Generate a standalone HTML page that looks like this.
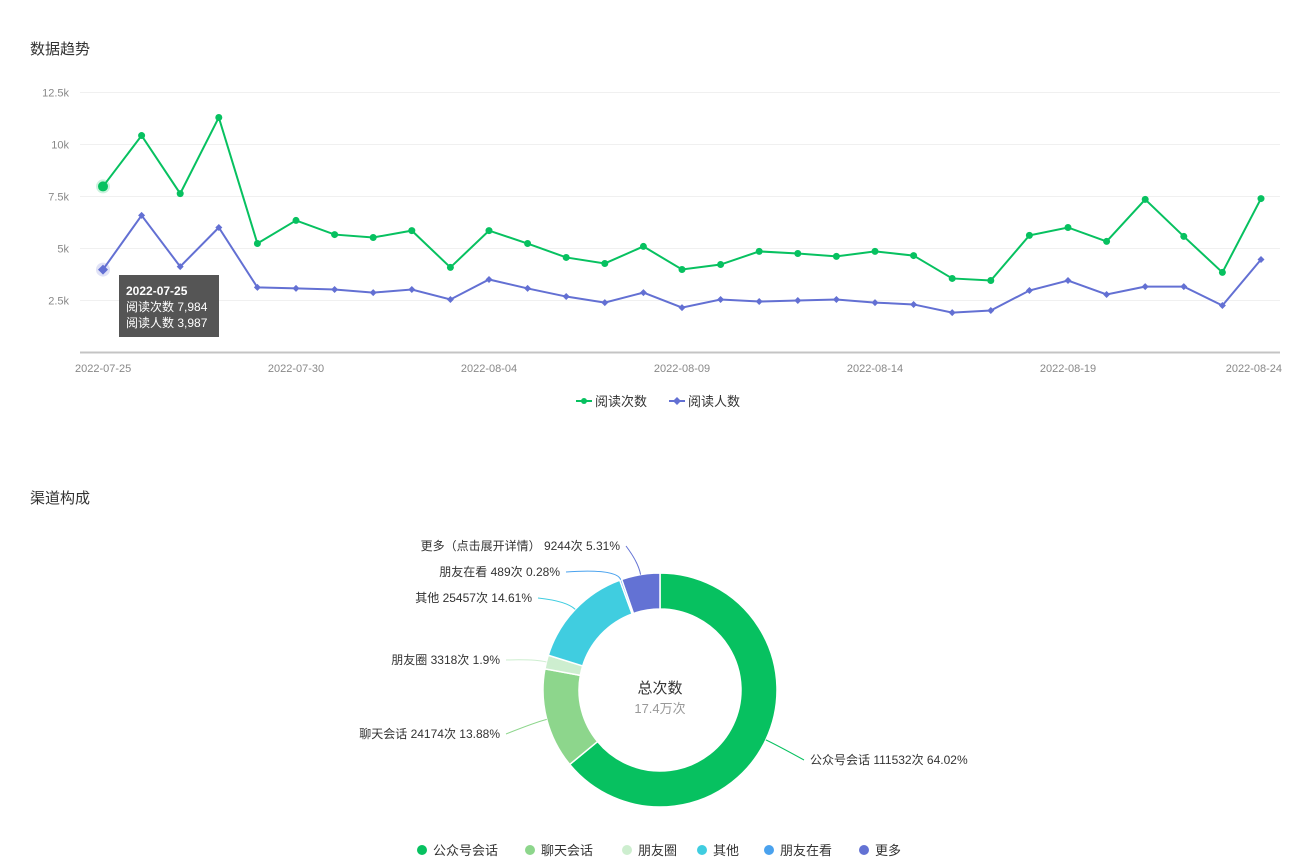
<!DOCTYPE html>
<html><head><meta charset="utf-8">
<style>
body{margin:0;background:#fff;width:1302px;height:866px;overflow:hidden;font-family:"Liberation Sans","Noto Sans CJK SC",sans-serif;}
.t{position:absolute;font-size:15px;color:#333;}
</style></head>
<body>
<div class="t" style="left:30px;top:38px">数据趋势</div>
<div class="t" style="left:30px;top:487px">渠道构成</div>
<svg width="1302" height="866" style="position:absolute;left:0;top:0" id="svg"
 font-family="Liberation Sans, Noto Sans CJK SC, sans-serif"></svg>
<script>
const dates=["2022-07-25","2022-07-26","2022-07-27","2022-07-28","2022-07-29","2022-07-30","2022-07-31","2022-08-01","2022-08-02","2022-08-03","2022-08-04","2022-08-05","2022-08-06","2022-08-07","2022-08-08","2022-08-09","2022-08-10","2022-08-11","2022-08-12","2022-08-13","2022-08-14","2022-08-15","2022-08-16","2022-08-17","2022-08-18","2022-08-19","2022-08-20","2022-08-21","2022-08-22","2022-08-23","2022-08-24"];
const reads=[7984,10430,7640,11300,5240,6350,5670,5530,5860,4090,5860,5240,4570,4280,5100,3990,4230,4860,4760,4620,4860,4660,3560,3460,5630,6010,5340,7360,5580,3850,7400];
const readers=[3987,6590,4130,6010,3130,3080,3030,2880,3030,2550,3510,3080,2690,2400,2880,2160,2550,2450,2500,2550,2400,2310,1920,2020,2980,3460,2790,3170,3170,2260,4470];
const yTicks=[2500,5000,7500,10000,12500];
const yTickLabels=["2.5k","5k","7.5k","10k","12.5k"];
const xTickIdx=[0,5,10,15,20,25,30];
const sliceNames=["公众号会话","聊天会话","朋友圈","其他","朋友在看","更多"];
const sliceValues=[111532,24174,3318,25457,489,9244];
const slicePct=["64.02%","13.88%","1.9%","14.61%","0.28%","5.31%"];
const NS="http://www.w3.org/2000/svg",svg=document.getElementById('svg');
function el(tag,attrs,parent){const e=document.createElementNS(NS,tag);for(const k in attrs)e.setAttribute(k,attrs[k]);(parent||svg).appendChild(e);return e;}
const x=i=>103+i*(1261-103)/(dates.length-1);
const y=v=>352.5-v*(52/2500);
yTicks.forEach((v,i)=>{
 const g=el('line',{x1:80,x2:1280,y1:y(v),y2:y(v),stroke:'#f0f0f0'});
 
 const t=el('text',{x:69,y:y(v)+4,'text-anchor':'end','font-size':11,fill:'#888'});t.textContent=yTickLabels[i];
 
});
const ax=el('line',{x1:80,x2:1280,y1:352.5,y2:352.5,stroke:'#c4c4c4','stroke-width':2});

xTickIdx.forEach((i,k)=>{
 const anchor=k==0?'start':(k==xTickIdx.length-1?'end':'middle');
 const t=el('text',{x:k==0?75:(k==xTickIdx.length-1?1282:x(i)),y:372,'text-anchor':anchor,'font-size':11,fill:'#888'});t.textContent=dates[i];
 
});
function series(data,color,name,diamond){
 const p=el('polyline',{points:data.map((v,i)=>x(i)+','+y(v)).join(' '),fill:'none',stroke:color,'stroke-width':2});
 
 data.forEach((v,i)=>{
  let m;
  if(i==0){el('circle',{cx:x(i),cy:y(v),r:7,fill:color,'fill-opacity':0.2});}
  if(diamond){const s=i==0?5:3.5;m=el('polygon',{points:`${x(i)},${y(v)-s} ${x(i)+s},${y(v)} ${x(i)},${y(v)+s} ${x(i)-s},${y(v)}`,fill:color});}
  else m=el('circle',{cx:x(i),cy:y(v),r:i==0?5:3.5,fill:color});
  
 });
}
series(reads,'#07c160','reads',false);
series(readers,'#6370d3','readers',true);
// tooltip
const tg=el('g',{});
el('rect',{x:119,y:275,width:100,height:62,fill:'#555'},tg);
[[dates[0],'bold',295],['阅读次数 '+reads[0].toLocaleString('en-US'),'normal',311],['阅读人数 '+readers[0].toLocaleString('en-US'),'normal',327]].forEach(a=>{
 const t=el('text',{x:126,y:a[2],'font-size':12,fill:'#fff','font-weight':a[1]},tg);t.textContent=a[0];});
// legend
const lg=el('g',{});
el('line',{x1:576,x2:592,y1:401,y2:401,stroke:'#07c160','stroke-width':2},lg);el('circle',{cx:584,cy:401,r:3,fill:'#07c160'},lg);
let t=el('text',{x:595,y:406,'font-size':13,fill:'#333'},lg);t.textContent='阅读次数';
el('line',{x1:669,x2:685,y1:401,y2:401,stroke:'#6370d3','stroke-width':2},lg);el('polygon',{points:'677,397 681,401 677,405 673,401',fill:'#6370d3'},lg);
t=el('text',{x:688,y:406,'font-size':13,fill:'#333'},lg);t.textContent='阅读人数';
// donut
const colors=['#07c160','#8dd68c','#cdeecf','#40cde0','#4aa2ee','#6372d4'];
const cx=660,cy=690,R=117,r=81;
const total=sliceValues.reduce((a,b)=>a+b,0);
const labelPos=[[810,764,'start'],[500,738,'end'],[500,664,'end'],[532,602,'end'],[560,576,'end'],[620,550,'end']];
let a0=-Math.PI/2;
sliceValues.forEach((v,i)=>{
 const a1=a0+v/total*2*Math.PI,lg2=(a1-a0)>Math.PI?1:0;
 const P=(rad,a)=>[cx+rad*Math.cos(a),cy+rad*Math.sin(a)];
 const [x1,y1]=P(R,a0),[x2,y2]=P(R,a1),[x3,y3]=P(r,a1),[x4,y4]=P(r,a0);
 const s=el('path',{d:`M${x1},${y1}A${R},${R} 0 ${lg2} 1 ${x2},${y2}L${x3},${y3}A${r},${r} 0 ${lg2} 0 ${x4},${y4}Z`,fill:colors[i],stroke:'#fff','stroke-width':1.5});
 
 const am=(a0+a1)/2,[ex,ey]=P(R,am),[mx,my]=P(R+12,am),lp=labelPos[i];
 const lx=lp[2]=='start'?lp[0]-6:lp[0]+6;
 el('path',{d:`M${ex},${ey}Q${mx},${my} ${lx},${lp[1]-4}`,fill:'none',stroke:colors[i]});
 const tt=el('text',{x:lp[0],y:lp[1],'text-anchor':lp[2],'font-size':12,fill:'#333'});
 tt.textContent=(i==5?'更多（点击展开详情）':sliceNames[i])+' '+v+'次 '+slicePct[i];
 
 a0=a1;
});
t=el('text',{x:660,y:693,'text-anchor':'middle','font-size':15,fill:'#333'});t.textContent='总次数';

t=el('text',{x:660,y:713,'text-anchor':'middle','font-size':13,fill:'#999'});t.textContent=(total/10000).toFixed(1)+'万次';

const lx0=[422,530,627,702,769,864];
sliceNames.forEach((n,i)=>{
 const c=el('circle',{cx:lx0[i],cy:850,r:5,fill:colors[i]});
 
 const tt=el('text',{x:lx0[i]+11,y:855,'font-size':13,fill:'#333'});tt.textContent=n;
 
});
</script>
</body></html>
